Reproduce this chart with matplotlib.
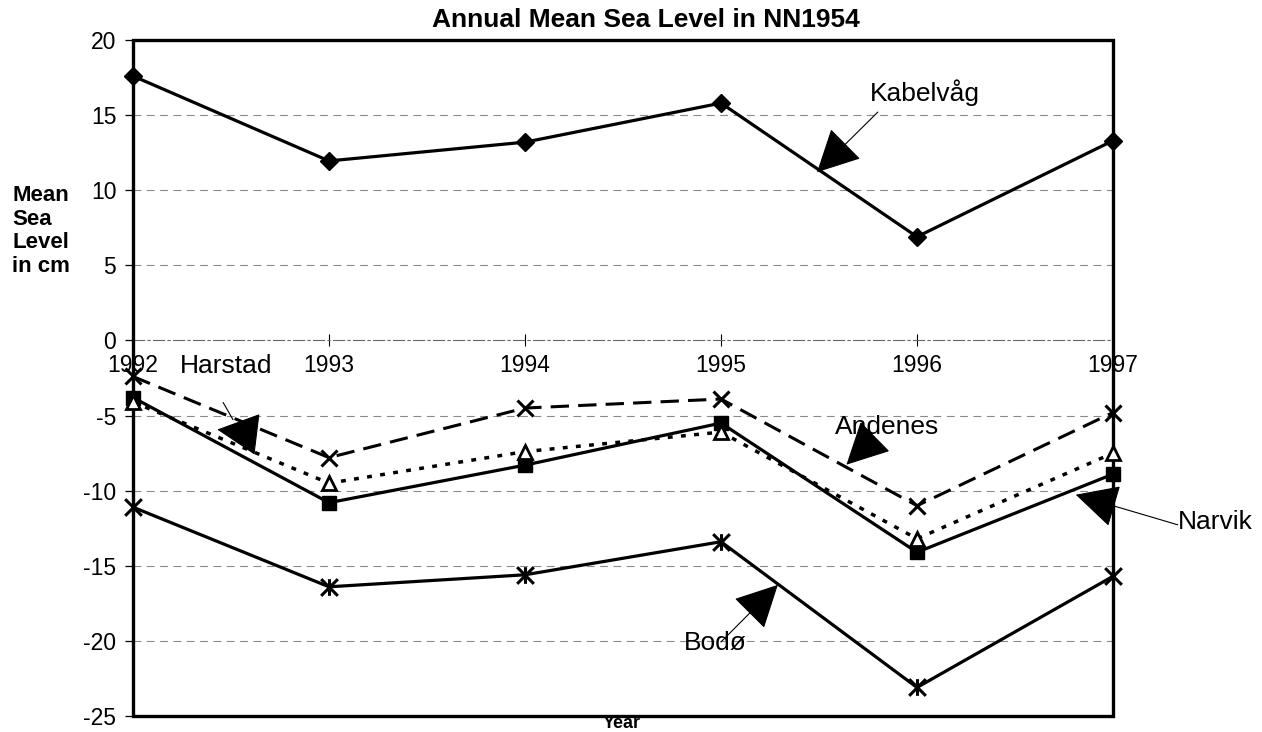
import matplotlib.pyplot as plt
from matplotlib.path import Path
from matplotlib.patches import Rectangle

plt.rcParams['font.family'] = ['Liberation Sans', 'DejaVu Sans']
plt.rcParams['axes.unicode_minus'] = False

# Data (cm, relative to NN1954)
years = [1992, 1993, 1994, 1995, 1996, 1997]
kabelvag = [17.6, 11.95, 13.2, 15.8, 6.9, 13.3]
harstad = [-4.1, -9.5, -7.4, -6.1, -13.2, -7.5]
andenes = [-2.4, -7.8, -4.5, -3.9, -11.0, -4.8]
narvik = [-3.8, -10.8, -8.3, -5.5, -14.1, -8.9]
bodo = [-11.1, -16.4, -15.6, -13.4, -23.1, -15.7]
y_ticks = [-25, -20, -15, -10, -5, 0, 5, 10, 15, 20]

# asterisk marker like the Excel "star"
star = Path([(-1, -1), (1, 1), (-1, 1), (1, -1), (0, -1), (0, 1)],
            [Path.MOVETO, Path.LINETO, Path.MOVETO, Path.LINETO, Path.MOVETO, Path.LINETO])

fig = plt.figure(figsize=(12.62, 7.32), dpi=100)
ax = fig.add_axes([133 / 1262, 16 / 732, 980 / 1262, 676 / 732])

# gridlines
for v in y_ticks[1:-1]:
    if v != 0:
        ax.axhline(v, color='#8a8a8a', lw=0.8, ls=(0, (7, 5)), zorder=1)

ax.plot(years, kabelvag, color='black', lw=2.3, marker='D', ms=9.5, zorder=4, clip_on=False)
ax.plot(years, andenes, color='black', lw=2.2, ls=(0, (6, 3)), marker='x', ms=11, mew=2.2,
        zorder=4, clip_on=False)
ax.plot(years, narvik, color='black', lw=2.3, marker='s', ms=10.5, zorder=4, clip_on=False)
ax.plot(years, harstad, color='black', lw=2.5, ls=(0, (1.4, 2.4)), marker='^', ms=10.5,
        mfc='white', mec='black', mew=2, zorder=5, clip_on=False)
ax.plot(years, bodo, color='black', lw=2.3, marker=star, ms=12, mew=2.2, zorder=4, clip_on=False)

ax.set_xlim(1992, 1997)
ax.set_ylim(-25, 20)
ax.set_yticks(y_ticks)
ax.set_xticks(years)
ax.set_xticklabels([str(y) for y in years])

for s in ['top', 'left', 'right']:
    ax.spines[s].set_visible(False)
ax.spines['bottom'].set_position(('data', 0))
ax.spines['bottom'].set_color('#666666')
ax.spines['bottom'].set_linewidth(0.8)
ax.spines['bottom'].set_linestyle((0, (10, 3, 2, 3)))

ax.tick_params(axis='x', direction='inout', length=8, width=0.8, pad=6, labelsize=16.5, colors='black')
ax.tick_params(axis='y', direction='out', length=6, width=0.9, pad=6, labelsize=16.5)

# plot area frame
ax.add_patch(Rectangle((0, 0), 1, 1, transform=ax.transAxes, fill=False, lw=2.4,
                       edgecolor='black', zorder=3, clip_on=False))

# labels with arrows
arrow = dict(arrowstyle='-|>,head_length=0.55,head_width=0.28', mutation_scale=50,
             color='black', lw=0.8, shrinkA=0, shrinkB=0)
ax.annotate('', xy=(1995.49, 11.2), xytext=(1995.80, 15.2), arrowprops=arrow, zorder=6)
ax.text(1995.76, 16.5, 'Kabelvåg', fontsize=19, va='center', ha='left')

ax.annotate('', xy=(1992.43, -5.93), xytext=(1992.60, -6.2), arrowprops=arrow, zorder=6)
ax.annotate('', xy=(1992.51, -5.27), xytext=(1992.46, -4.13),
            arrowprops=dict(arrowstyle='-', color='black', lw=0.8, shrinkA=0, shrinkB=0))
ax.text(1992.24, -1.73, 'Harstad', fontsize=19, va='center', ha='left')

ax.annotate('', xy=(1995.64, -8.27), xytext=(1995.77, -6.6), arrowprops=arrow, zorder=6)
ax.text(1995.58, -5.73, 'Andenes', fontsize=19, va='center', ha='left')

ax.annotate('', xy=(1996.81, -10.27), xytext=(1997.33, -12.27), arrowprops=arrow,
            zorder=6, annotation_clip=False)
ax.text(1997.33, -12.07, 'Narvik', fontsize=19, va='center', ha='left')

ax.annotate('', xy=(1995.29, -16.27), xytext=(1995.0, -20.07), arrowprops=arrow, zorder=6)
ax.text(1994.81, -20.13, 'Bodø', fontsize=19, va='center', ha='left')

fig.text(645.7 / 1262, 1 - 20 / 732, 'Annual Mean Sea Level in NN1954', fontsize=19,
         fontweight='bold', ha='center', va='center')
fig.text(622 / 1262, 1 - 728 / 732, 'Year', fontsize=13, fontweight='bold', ha='center', va='baseline')
fig.text(12 / 1262, 1 - 231 / 732, 'Mean\nSea\nLevel\nin cm', fontsize=16, fontweight='bold',
         ha='left', va='center', linespacing=1.15)

fig.savefig('out.png', dpi=100)
